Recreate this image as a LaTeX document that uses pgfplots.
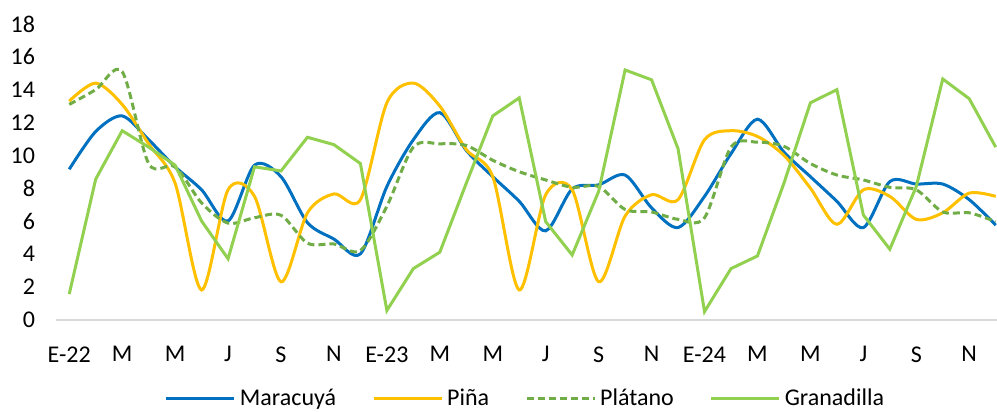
\documentclass[border=0pt]{standalone}
\usepackage{pgfplots}
\usepackage{pgfplotstable}
\usepackage{fontspec}
\setmainfont{Carlito}
\pgfplotsset{compat=1.18}

\definecolor{cmar}{HTML}{0070C0}
\definecolor{cpin}{HTML}{FFC000}
\definecolor{cpla}{HTML}{70AD47}
\definecolor{cgra}{HTML}{92D050}
\definecolor{caxis}{HTML}{D9D9D9}

% month index (0 = Jan 2022), Maracuya, Pina, Platano, Granadilla
\pgfplotstableread{
x  mar   pin   pla   gra
0  9.15  13.3  13.1  1.55
1  11.45 14.4  14.0  8.55
2  12.4  13.1  15.1  11.5
3  10.95 10.7  9.5   10.5
4  9.3   8.3   9.3   9.4
5  7.9   1.8   7.1   6.0
6  6.0   7.9   5.87  3.7
7  9.4   7.5   6.2   9.3
8  8.7   2.3   6.35  9.05
9  5.9   6.5   4.65  11.1
10 4.9   7.65  4.6   10.65
11 4.0   7.3   4.2   9.5
12 8.1   13.2  6.9   0.55
13 10.95 14.4  10.5  3.1
14 12.6  13.0  10.7  4.1
15 10.3  10.35 10.6  8.3
16 8.7   8.7   9.7   12.4
17 7.2   1.8   9.0   13.5
18 5.4   7.6   8.5   5.96
19 7.95  7.9   8.05  3.93
20 8.2   2.3   8.1   7.8
21 8.8   6.3   6.7   15.2
22 6.8   7.6   6.55  14.6
23 5.6   7.3   6.1   10.4
24 7.5   10.95 6.2   0.48
25 10.1  11.5  10.5  3.1
26 12.2  11.15 10.8  3.87
27 10.2  10.0  10.55 8.3
28 8.7   8.0   9.5   13.2
29 7.2   5.8   8.8   14.0
30 5.6   7.9   8.5   6.37
31 8.4   7.5   8.05  4.28
32 8.25  6.1   7.9   8.1
33 8.25  6.5   6.55  14.65
34 7.3   7.7   6.5   13.45
35 5.75  7.5   5.96  10.5
}\datatable

\begin{document}
\begin{tikzpicture}
\useasboundingbox (-28pt,-46.25pt) rectangle (470.5pt,159.75pt);
\begin{axis}[
  scale only axis,
  width=470.5pt, height=147.75pt,
  xmin=-0.5, xmax=35.05,
  ymin=0, ymax=18,
  ytick={0,2,...,18},
  xtick={0,2,...,34},
  xticklabels={E-22,M,M,J,S,N,E-23,M,M,J,S,N,E-24,M,M,J,S,N},
  axis x line*=bottom,
  axis y line*=left,
  x axis line style={-, draw=caxis, line width=1pt},
  y axis line style={draw=none},
  major tick length=0pt,
  tick label style={font=\fontsize{12}{14}\selectfont, text=black},
  /pgf/number format/assume math mode=true,
  yticklabel style={xshift=-7pt},
  xticklabel style={yshift=-10pt},
  legend columns=4,
  legend style={draw=none, fill=none,
    at={(axis description cs:0.5,-0.268)}, anchor=center,
    font=\fontsize{12}{14}\selectfont,
    /tikz/every even column/.append style={column sep=16pt}},
  legend image code/.code={\draw[#1] (0pt,0pt) -- (34pt,0pt);},
  every axis plot/.append style={line width=1.5pt},
]
\addplot[cmar, smooth, tension=0.5] table[x=x, y=mar] {\datatable};
\addlegendentry{Maracuyá}
\addplot[cpin, smooth, tension=0.5] table[x=x, y=pin] {\datatable};
\addlegendentry{Piña}
\addplot[cpla, smooth, tension=0.5, dash pattern=on 3.5pt off 2pt] table[x=x, y=pla] {\datatable};
\addlegendentry{Plátano}
\addplot[cgra] table[x=x, y=gra] {\datatable};
\addlegendentry{Granadilla}
\end{axis}
\end{tikzpicture}
\end{document}
